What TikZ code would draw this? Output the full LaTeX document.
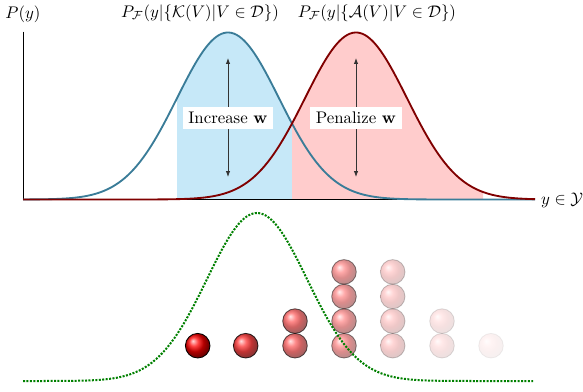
\documentclass[tikz,border=0pt]{standalone}
\usepackage{amsmath}
\usetikzlibrary{arrows.meta}
\definecolor{curveblue}{RGB}{58,124,152}
\definecolor{fillblue}{RGB}{198,232,248}
\definecolor{curvered}{RGB}{128,0,0}
\definecolor{fillred}{RGB}{255,204,204}
\definecolor{dotgreen}{RGB}{0,128,0}
\tikzset{
  bluecurve/.style={draw=curveblue, line width=1.1pt},
  redcurve/.style={draw=curvered, line width=1.1pt},
  greencurve/.style={draw=dotgreen, line width=1.2pt, dash pattern=on 1.2pt off 0.85pt},
  axisline/.style={draw=black, line width=0.5pt},
  dblarrow/.style={draw=black!80, line width=0.5pt, {Latex[length=3.5pt,width=2.6pt]}-{Latex[length=3.5pt,width=2.6pt]}},
  wlabel/.style={fill=white, inner sep=3.2pt},
  ball/.style={ball color=red, draw=black, line width=0.5pt}
}
\begin{document}
\begin{tikzpicture}[x=0.595pt,y=-0.595pt]
\useasboundingbox (0,0) rectangle (583,391);
% fills
\fill[fillblue] (177,199.5) -- plot[domain=177:292,samples=60] (\x,{199.5-167*exp(-0.5*((\x-228)/51)^2)}) -- (292,199.5) -- cycle;
\fill[fillred] (292,199.5) -- plot[domain=292:483,samples=80] (\x,{199.5-167*exp(-0.5*((\x-356)/51)^2)}) -- (483,199.5) -- cycle;
% axes
\coordinate (o) at (23,199.5);
\coordinate (ytop) at (23,31.5);
\coordinate (xend) at (535,199.5);
\draw[axisline] (ytop) -- (o) -- (xend);
\node[anchor=south] (py) at (23,29) {$P(y)$};
\node[anchor=west, inner sep=1pt] (yy) at (539,200) {$y\in\mathcal{Y}$};
% arrows
\coordinate (bt) at (228,58);
\coordinate (bb) at (228,177);
\coordinate (rt) at (356,58);
\coordinate (rb) at (356,177);
\draw[dblarrow] (bt) -- (bb);
\draw[dblarrow] (rt) -- (rb);
% curves
\draw[bluecurve] plot[domain=23:535,samples=200] (\x,{199.5-167*exp(-0.5*((\x-228)/51)^2)});
\draw[redcurve] plot[domain=23:535,samples=200] (\x,{199.5-167*exp(-0.5*((\x-356)/51)^2)});
% labels
\node[wlabel] (inc) at (228,118) {Increase $\mathbf{w}$};
\node[wlabel] (pen) at (356,118) {Penalize $\mathbf{w}$};
\node (tk) at (200,13) {$P_{\mathcal{F}}(y|\{\mathcal{K}(V)|V\in\mathcal{D}\})$};
\node (ta) at (377,13) {$P_{\mathcal{F}}(y|\{\mathcal{A}(V)|V\in\mathcal{D}\})$};
% balls
\foreach \c/\n/\op in {197.7/1/1, 245.7/1/0.8, 295/2/0.62, 344/4/0.45, 392.7/4/0.22, 442/2/0.12, 491/1/0.06} {
  \foreach \k in {1,...,\n} {
    \shadedraw[ball, opacity=\op] (\c,{345.7-(\k-1)*24.6}) circle (12.3);
  }
}
% green dotted curve
\draw[greencurve] plot[domain=23:533,samples=200] (\x,{381-168*exp(-0.5*((\x-257)/50)^2)});
\end{tikzpicture}
\end{document}
